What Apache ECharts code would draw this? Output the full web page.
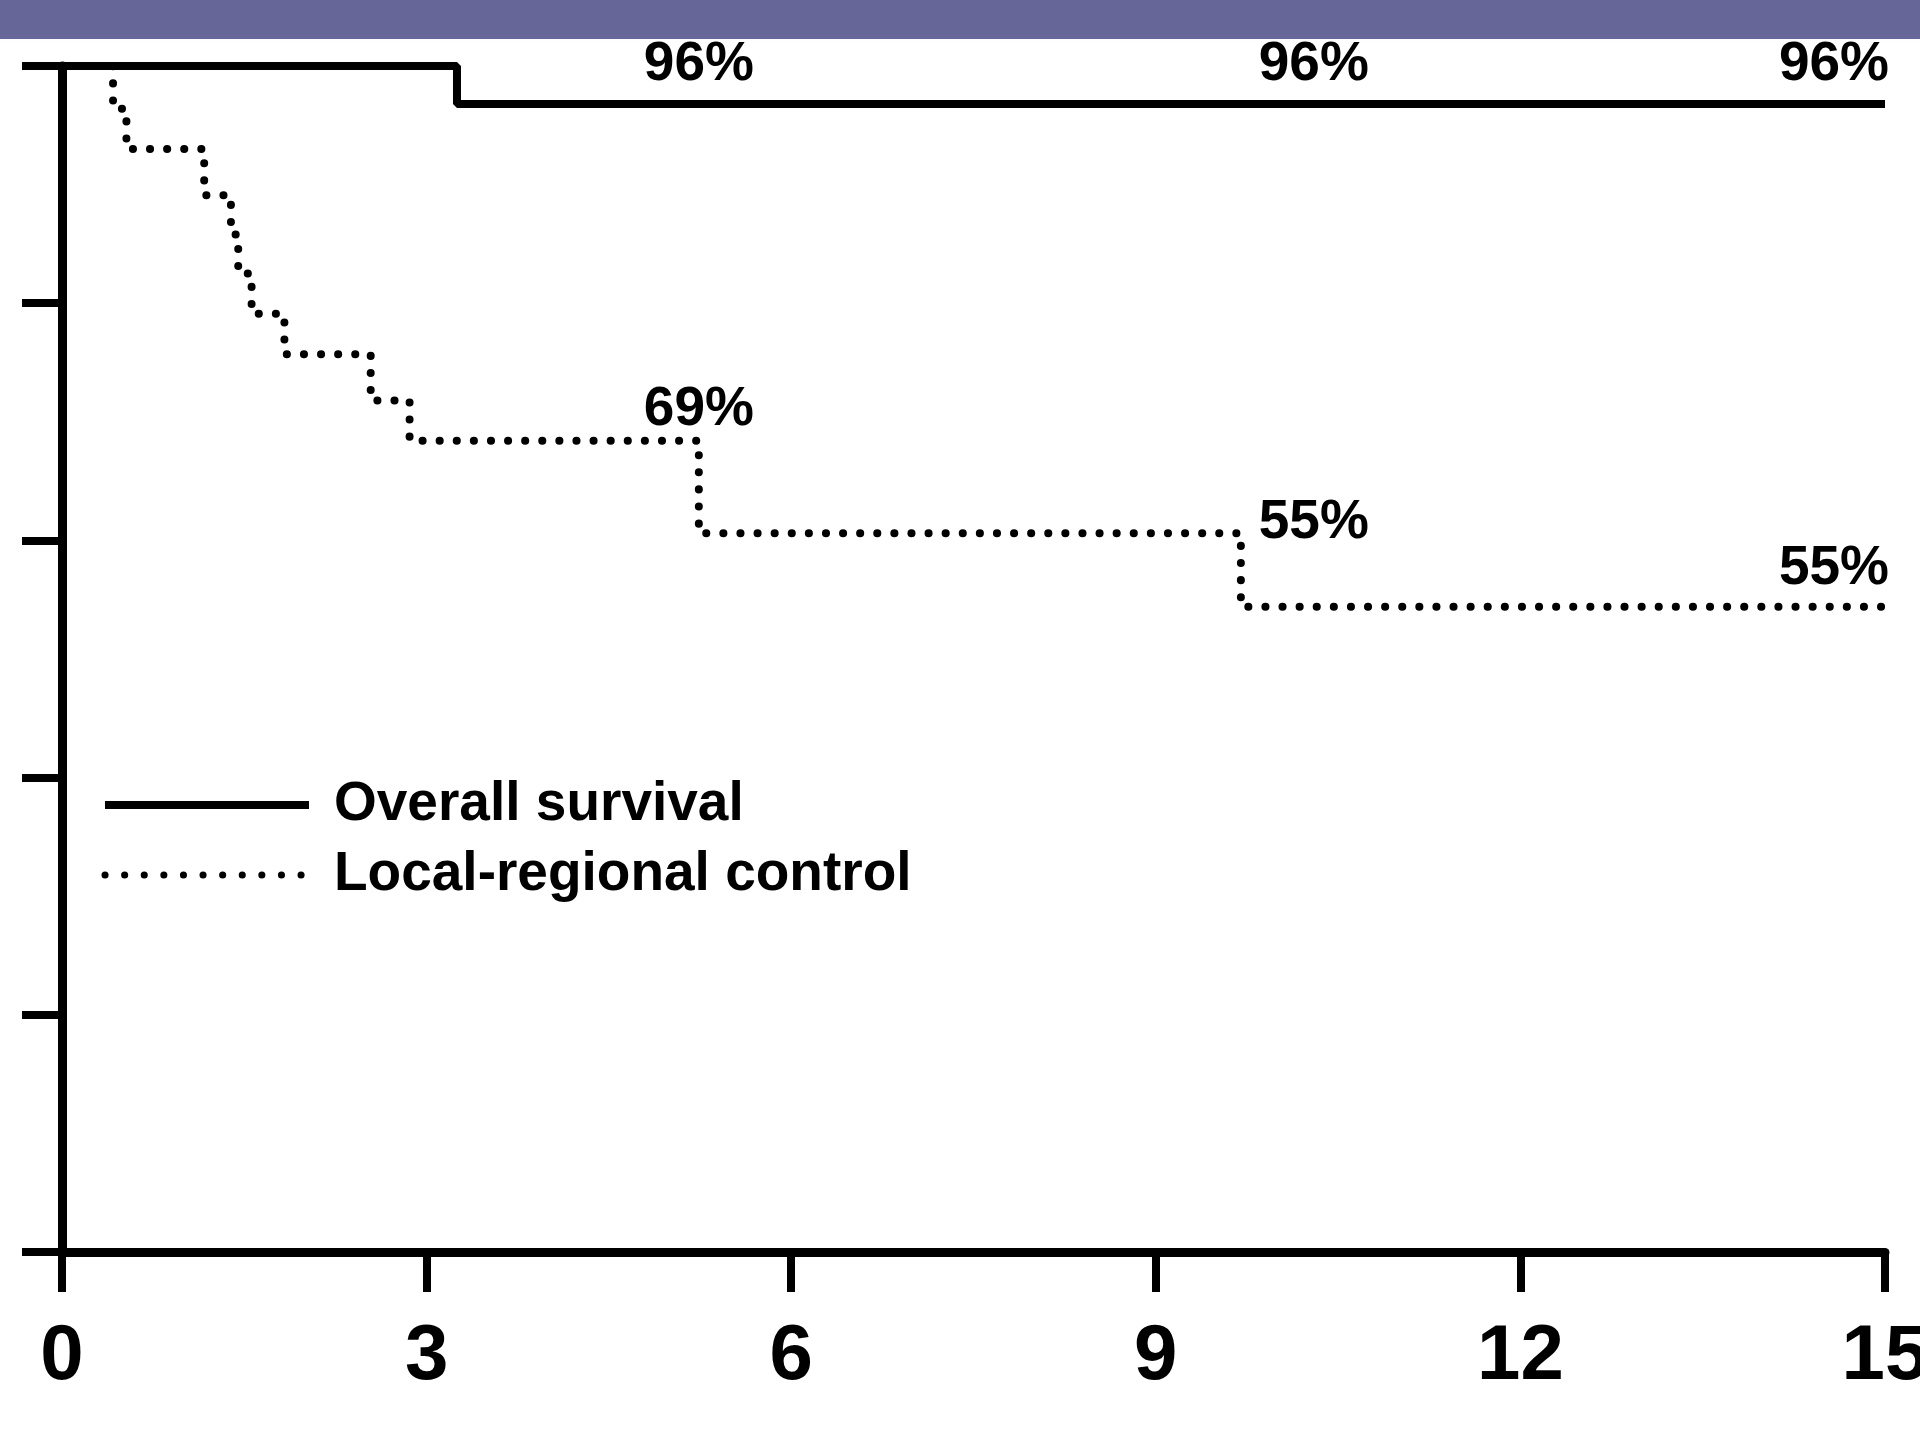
<!DOCTYPE html>
<html>
<head>
<meta charset="utf-8">
<title>Overall survival / Local-regional control</title>
<script src="https://cdn.jsdelivr.net/npm/echarts@6/dist/echarts.min.js"></script>
<style>
    html, body { margin: 0; padding: 0; background: #fff; }
    #chart1 { width: 1920px; height: 1440px; }
</style>
</head>
<body>
<div id="chart1"></div>
<script>
// 时间轴 (years) 和刻度
var xTicks = [0, 3, 6, 9, 12, 15]

// Overall survival (实线)
var osTime = [0, 3.25, 15]
var osValue = [100, 96.8, 96.8]

// Local-regional control (点线)
var lrcTime = [0, 0.42, 0.53, 1.17, 1.39, 1.45, 1.56, 1.83, 2.54, 2.86, 5.24, 9.70, 15]
var lrcValue = [100, 96.4, 93.0, 89.1, 85.8, 82.5, 79.1, 75.7, 71.8, 68.4, 60.6, 54.4, 54.4]

// 百分比标注
var noteTime = [5.24, 10.3, 14.58, 5.24, 10.3, 14.58]
var noteValue = [100.1, 100.1, 100.1, 71.0, 61.5, 57.6]
var noteText = ['96%', '96%', '96%', '69%', '55%', '55%']

var seriesNames = ['Overall survival', 'Local-regional control']

function pairs (xs, ys) {
    var out = []
    for (var i = 0; i < xs.length; i++) {
        out.push([xs[i], ys[i]])
    }
    return out
}

var noteData = []
for (var i = 0; i < noteTime.length; i++) {
    noteData.push({ value: [noteTime[i], noteValue[i]], name: noteText[i] })
}

var font = '"Liberation Sans", Arial, sans-serif'
var chart1 = echarts.init(document.getElementById('chart1'))

var option = {
    animation: false,
    backgroundColor: '#fff',
    color: ['#000', '#000', '#000'],
    grid: {
        left: 62,
        right: 35,
        top: 66,
        bottom: 188,
        containLabel: false,
        outerBoundsMode: 'none'
    },
    legend: {
        orient: 'vertical',
        left: 96,
        top: 772,
        selectedMode: false,
        itemWidth: 204,
        itemHeight: 14,
        itemGap: 14,
        textStyle: {
            fontFamily: font,
            fontSize: 55,
            fontWeight: 'bold',
            color: '#000',
            lineHeight: 56,
            padding: [0, 0, 0, 20]
        },
        data: [
            { name: seriesNames[0], itemStyle: { opacity: 0 }, lineStyle: { width: 8, color: '#000' } },
            { name: seriesNames[1], itemStyle: { opacity: 0 }, lineStyle: { width: 7, color: '#000', type: [0.1, 19.5], cap: 'round' } }
        ]
    },
    xAxis: {
        type: 'value',
        min: 0,
        max: 15,
        interval: 3,
        axisLine: { lineStyle: { color: '#000', width: 9 } },
        axisTick: { show: true, length: 40, lineStyle: { color: '#000', width: 8 } },
        axisLabel: {
            show: true,
            margin: 66,
            fontFamily: font,
            fontSize: 78,
            fontWeight: 'bold',
            color: '#000',
            showMaxLabel: true,
            showMinLabel: true,
            formatter: function (v) {
                return xTicks.indexOf(v) > -1 ? String(v) : ''
            }
        },
        splitLine: { show: false }
    },
    yAxis: {
        type: 'value',
        min: 0,
        max: 100,
        interval: 20,
        axisLine: { show: true, lineStyle: { color: '#000', width: 9 } },
        axisTick: { show: true, length: 40, lineStyle: { color: '#000', width: 8 } },
        axisLabel: { show: false },
        splitLine: { show: false }
    },
    series: [
        {
            name: seriesNames[1],
            type: 'line',
            step: 'end',
            symbol: 'none',
            z: 2,
            itemStyle: { color: '#000' },
            lineStyle: { color: '#000', width: 8, type: [0.1, 17], cap: 'round' },
            data: pairs(lrcTime, lrcValue)
        },
        {
            name: seriesNames[0],
            type: 'line',
            step: 'end',
            symbol: 'none',
            z: 3,
            itemStyle: { color: '#000' },
            lineStyle: { color: '#000', width: 8 },
            data: pairs(osTime, osValue)
        },
        {
            // 标注 (无符号, 只显示文字)
            name: 'notes',
            type: 'scatter',
            symbolSize: 0,
            clip: false,
            silent: true,
            z: 4,
            itemStyle: { opacity: 1, color: '#000' },
            label: {
                show: true,
                position: 'inside',
                formatter: '{b}',
                fontFamily: font,
                fontSize: 55,
                fontWeight: 'bold',
                color: '#000'
            },
            data: noteData
        }
    ],
    graphic: [
        {
            // 顶部紫色条
            type: 'rect',
            left: 0,
            top: 0,
            z: 100,
            shape: { width: 1920, height: 39 },
            style: { fill: '#666699' }
        }
    ]
}

chart1.setOption(option)
</script>
</body>
</html>
